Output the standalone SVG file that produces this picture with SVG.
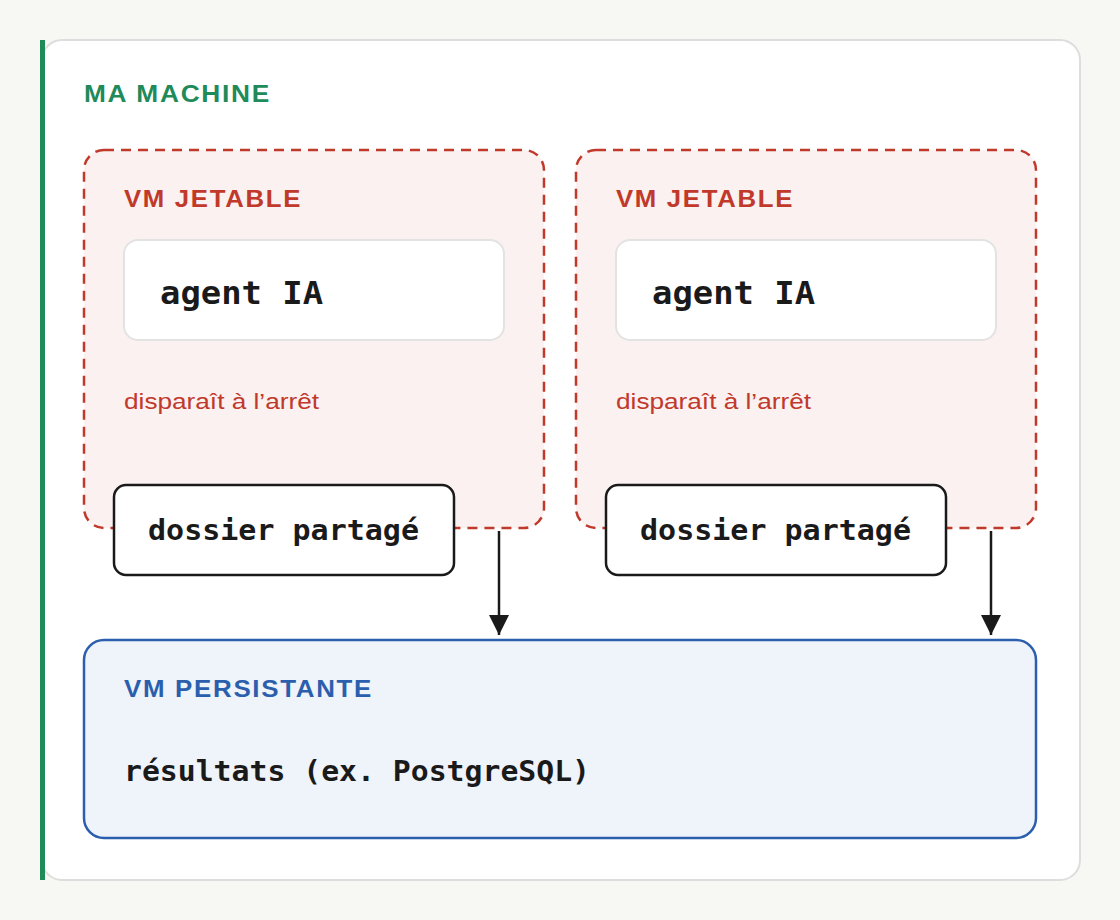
<svg xmlns="http://www.w3.org/2000/svg" width="1120" height="920" viewBox="0 0 1120 920">
<style>
.lbl{font-family:"Liberation Sans",Arial,sans-serif;font-weight:bold;font-size:23px;letter-spacing:1.5px}
.mono{font-family:"DejaVu Sans Mono","Liberation Mono",monospace;font-weight:bold;fill:#1a1a1a}
.vm{fill:#faf1f0;stroke:#c0392b;stroke-width:2.5;stroke-dasharray:10 7}
.agent{fill:#fff;stroke:#e3e3e3;stroke-width:2}
.dos{fill:#fff;stroke:#1a1a1a;stroke-width:2.5}
.note{font-family:"Liberation Sans",Arial,sans-serif;font-size:22px;fill:#c0392b}
</style>
<defs>
<marker id="a2" viewBox="0 0 10 10" refX="10" refY="5" markerWidth="20" markerHeight="20" orient="auto" markerUnits="userSpaceOnUse"><path d="M0,0 L10,5 L0,10 z" fill="#1a1a1a"/></marker></defs>
<rect width="1120" height="920" fill="#f7f7f3"/>
<g id="machine">
<rect x="42" y="40" width="1038" height="840" rx="20" fill="#fff" stroke="#dddddd" stroke-width="2"/>
<rect x="40" y="40" width="5" height="840" fill="#1f8a5a"/>
<text x="84" y="102" class="lbl" fill="#1f8a5a" textLength="187" lengthAdjust="spacingAndGlyphs">MA MACHINE</text>
</g>
<g id="vm1">
<rect x="84" y="150" width="460" height="378" rx="20" class="vm"/>
<text x="124" y="207" class="lbl" fill="#c0392b" textLength="178" lengthAdjust="spacingAndGlyphs">VM JETABLE</text>
<text x="124" y="409" class="note" textLength="195" lengthAdjust="spacingAndGlyphs">disparaît à l’arrêt</text>
</g>
<g id="agent1"><rect x="124" y="240" width="380" height="100" rx="14" class="agent"/><text x="160" y="304" class="mono" font-size="32" textLength="163" lengthAdjust="spacingAndGlyphs">agent IA</text></g>
<g id="dossier1"><rect x="114" y="485" width="340" height="90" rx="12" class="dos"/><text x="148" y="540" class="mono" font-size="28" textLength="271" lengthAdjust="spacingAndGlyphs">dossier partagé</text></g>
<g id="vm2">
<rect x="576" y="150" width="460" height="378" rx="20" class="vm"/>
<text x="616" y="207" class="lbl" fill="#c0392b" textLength="178" lengthAdjust="spacingAndGlyphs">VM JETABLE</text>
<text x="616" y="409" class="note" textLength="195" lengthAdjust="spacingAndGlyphs">disparaît à l’arrêt</text>
</g>
<g id="agent2"><rect x="616" y="240" width="380" height="100" rx="14" class="agent"/><text x="652" y="304" class="mono" font-size="32" textLength="163" lengthAdjust="spacingAndGlyphs">agent IA</text></g>
<g id="dossier2"><rect x="606" y="485" width="340" height="90" rx="12" class="dos"/><text x="640" y="540" class="mono" font-size="28" textLength="271" lengthAdjust="spacingAndGlyphs">dossier partagé</text></g>
<g id="persistante">
<rect x="84" y="640" width="952" height="198" rx="20" fill="#eff3fa" stroke="#2b5fad" stroke-width="2.5"/>
<text x="124" y="697" class="lbl" fill="#2b5fad" textLength="249" lengthAdjust="spacingAndGlyphs">VM PERSISTANTE</text>
<text x="124" y="781" class="mono" font-size="28" textLength="466" lengthAdjust="spacingAndGlyphs">résultats (ex. PostgreSQL)</text>
</g>
<g id="connectors" stroke="#1a1a1a" stroke-width="2.5" fill="none">
<line x1="499" y1="531" x2="499" y2="635" marker-end="url(#a2)"/>
<line x1="991" y1="531" x2="991" y2="635" marker-end="url(#a2)"/>
</g>
</svg>
